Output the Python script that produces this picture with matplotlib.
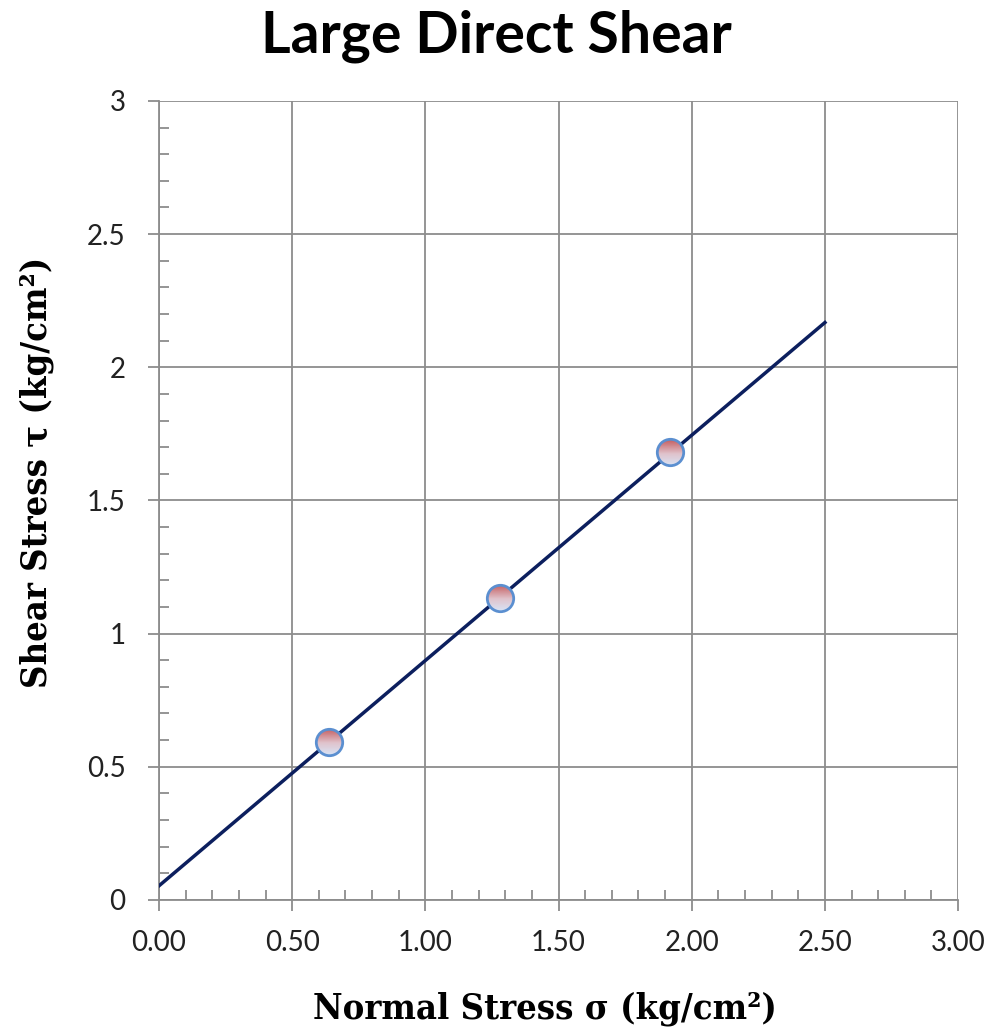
"""
大型直剪试验 - 抗剪强度包络线
"""

import numpy as np
import matplotlib.pyplot as plt
from matplotlib.patches import Circle
from matplotlib.colors import LinearSegmentedColormap
from matplotlib.ticker import MultipleLocator, FormatStrFormatter

# 试验数据点
normal_stress = [0.64, 1.28, 1.92]
shear_stress = [0.593, 1.135, 1.68]

# 拟合直线 (读图得到)
fit_x = [0.0, 2.5]
fit_intercept = 0.053
fit_slope = 0.846

fig = plt.figure(figsize=(9.97, 10.32), dpi=100)
ax = fig.add_axes([0.1595, 0.128, 0.8015, 0.7742])

grid_c = '#8c8c8c'
edge_c = '#5b8fd0'

# 拟合线
fx = np.array(fit_x)
ax.plot(fx, fit_intercept + fit_slope * fx, color='#0c1f5e', lw=2.5, zorder=3)

# 数据点: 上红下蓝的渐变填充
grad = LinearSegmentedColormap.from_list(
    'g', [(0.0, '#d8e3f5'), (0.45, '#e0c3cc'), (1.0, '#c45a5c')])
r = 0.049
g = np.linspace(0, 1, 64).reshape(-1, 1)
for x, y in zip(normal_stress, shear_stress):
    circ = Circle((x, y), r, transform=ax.transData, facecolor='none', edgecolor='none')
    ax.add_patch(circ)
    im = ax.imshow(g, cmap=grad, origin='lower', extent=[x - r, x + r, y - r, y + r],
                   aspect='auto', zorder=4, interpolation='bilinear')
    im.set_clip_path(circ)
ax.plot(normal_stress, shear_stress, 'o', ms=19, markerfacecolor='none',
        markeredgecolor=edge_c, markeredgewidth=2.0, zorder=5)

ax.set_xlim(0, 3)
ax.set_ylim(0, 3)
ax.xaxis.set_major_locator(MultipleLocator(0.5))
ax.xaxis.set_minor_locator(MultipleLocator(0.1))
ax.yaxis.set_major_locator(MultipleLocator(0.5))
ax.yaxis.set_minor_locator(MultipleLocator(0.1))
ax.xaxis.set_major_formatter(FormatStrFormatter('%.2f'))
ax.yaxis.set_major_formatter(plt.FuncFormatter(lambda v, p: f'{v:g}'))

ax.grid(True, which='major', color=grid_c, lw=1.3, zorder=0)
ax.set_axisbelow(True)
for s in ax.spines.values():
    s.set_visible(False)
for side in ['left', 'bottom']:
    ax.spines[side].set_visible(True)
    ax.spines[side].set_color(grid_c)
    ax.spines[side].set_linewidth(1.3)

ax.tick_params(which='major', direction='out', length=8, width=1.3, color=grid_c,
               labelsize=20, labelcolor='#222222')
ax.tick_params(axis='y', which='major', pad=16)
ax.tick_params(axis='x', which='major', pad=14)
ax.tick_params(which='minor', direction='in', length=7, width=1.3, color=grid_c)
for lab in ax.get_xticklabels() + ax.get_yticklabels():
    lab.set_family('Lato')

ax.set_xlabel('Normal Stress σ (kg/cm²)', family='DejaVu Serif', stretch='condensed',
              fontweight='bold', fontsize=26)
ax.set_ylabel('Shear Stress τ (kg/cm²)', family='DejaVu Serif', stretch='condensed',
              fontweight='bold', fontsize=26)
ax.xaxis.set_label_coords(0.483, -0.114)
ax.yaxis.set_label_coords(-0.132, 0.535)

fig.text(0.498, 0.9496, 'Large Direct Shear', family='Lato', fontweight='bold',
         fontsize=41, ha='center', va='baseline')

fig.savefig('out.png', dpi=100)
